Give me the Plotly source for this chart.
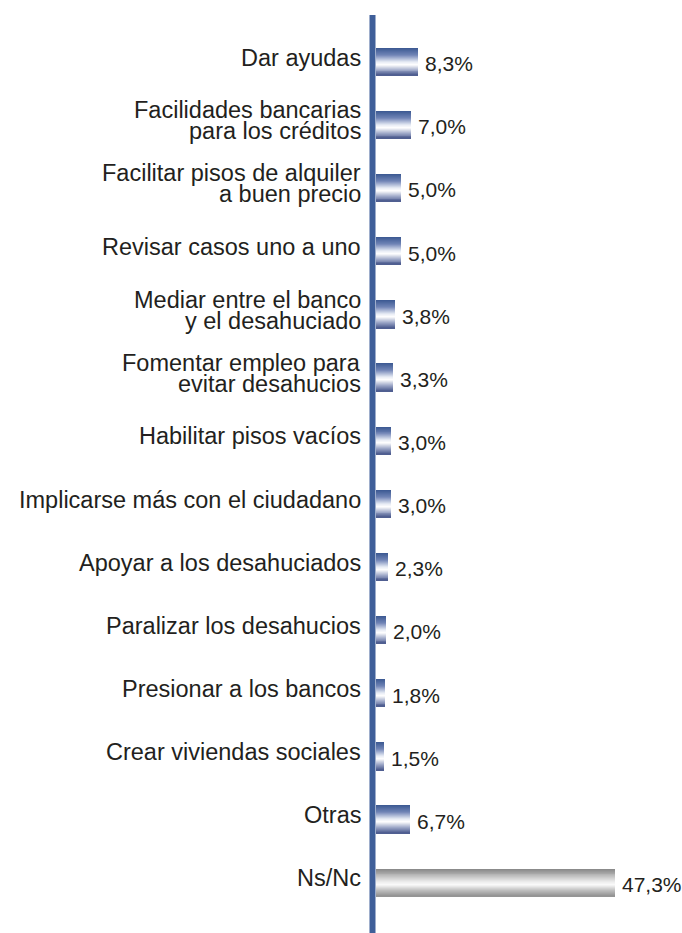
import plotly.graph_objects as go

# --- data ---
categories = [
    "Dar ayudas",
    "Facilidades bancarias<br>para los créditos",
    "Facilitar pisos de alquiler<br>a buen precio",
    "Revisar casos uno a uno",
    "Mediar entre el banco<br>y el desahuciado",
    "Fomentar empleo para<br>evitar desahucios",
    "Habilitar pisos vacíos",
    "Implicarse más con el ciudadano",
    "Apoyar a los desahuciados",
    "Paralizar los desahucios",
    "Presionar a los bancos",
    "Crear viviendas sociales",
    "Otras",
    "Ns/Nc",
]
values = [8.3, 7.0, 5.0, 5.0, 3.8, 3.3, 3.0, 3.0, 2.3, 2.0, 1.8, 1.5, 6.7, 47.3]
value_labels = ["8,3%", "7,0%", "5,0%", "5,0%", "3,8%", "3,3%", "3,0%", "3,0%",
                "2,3%", "2,0%", "1,8%", "1,5%", "6,7%", "47,3%"]
gray_bars = ["Ns/Nc"]

# --- style ---
TEXT = "#231f20"
AXIS_BLUE = "#3f5f99"
FONT = "Liberation Sans, Arial, sans-serif"
BAR_W = 0.44
N_STRIPES = 28

blue_stops = [(0.0, (58, 88, 145)), (0.25, (112, 132, 182)), (0.5, (232, 236, 245)),
              (0.6, (255, 255, 255)), (0.8, (158, 168, 200)), (1.0, (72, 88, 140))]
gray_stops = [(0.0, (135, 135, 135)), (0.25, (185, 185, 185)), (0.5, (238, 238, 238)),
              (0.6, (250, 250, 250)), (0.8, (190, 190, 190)), (1.0, (145, 145, 145))]


def grad(stops, t):
    for (t0, c0), (t1, c1) in zip(stops, stops[1:]):
        if t0 <= t <= t1:
            f = (t - t0) / (t1 - t0)
            c = [round(a + (b - a) * f) for a, b in zip(c0, c1)]
            return "rgb({},{},{})".format(*c)
    return "rgb({},{},{})".format(*stops[-1][1])


pos = list(range(len(categories)))
fig = go.Figure()

# gradient fill: nested bars, each one starting a bit lower and painted over the last
sw = BAR_W / N_STRIPES
for k in range(N_STRIPES):
    t = (k + 0.5) / N_STRIPES
    cols = [grad(gray_stops if c in gray_bars else blue_stops, t) for c in categories]
    fig.add_trace(go.Bar(
        x=values, y=pos, orientation="h",
        width=BAR_W - k * sw, offset=-BAR_W / 2 + k * sw,
        marker=dict(color=cols, line=dict(width=0)),
        hoverinfo="skip", showlegend=False,
    ))

annotations = []
for i, (cat, v, lab) in enumerate(zip(categories, values, value_labels)):
    lines = cat.split("<br>")
    n = len(lines)
    for j, line in enumerate(lines):
        annotations.append(dict(
            x=0, xref="paper", y=i, yref="y", text=line, showarrow=False,
            xanchor="right", yanchor="middle", xshift=-13,
            yshift=4 + (n - 1) * 10.5 - j * 21,
            font=dict(family=FONT, size=23.5, color=TEXT),
        ))
    annotations.append(dict(
        x=v, xref="x", y=i, yref="y", text=lab, showarrow=False,
        xanchor="left", yanchor="middle", xshift=5, yshift=-2,
        font=dict(family=FONT, size=21, color=TEXT),
    ))

plot_w = 682 - 376
fig.update_layout(
    width=682, height=933,
    margin=dict(l=376, r=0, t=30, b=19),
    paper_bgcolor="white", plot_bgcolor="white",
    barmode="overlay", bargap=0,
    xaxis=dict(range=[0, plot_w / 5.05], visible=False, fixedrange=True),
    yaxis=dict(range=[len(categories) - 0.5, -0.5], visible=False, fixedrange=True),
    annotations=annotations,
    shapes=[dict(type="line", xref="paper", yref="paper",
                 x0=-3.5 / plot_w, x1=-3.5 / plot_w, y0=-0.05, y1=(914 - 15) / 884,
                 line=dict(color=AXIS_BLUE, width=6))],
)

fig.write_html("out.html", config={"displayModeBar": False},
               post_script="document.body.style.margin='0';")
